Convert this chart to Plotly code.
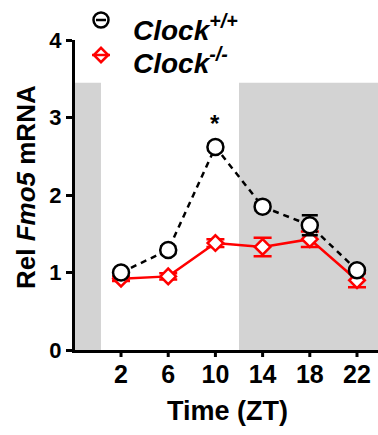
import plotly.graph_objects as go

time_zt = [2, 6, 10, 14, 18, 22]
wt_mean = [1.00, 1.29, 2.62, 1.85, 1.61, 1.03]
wt_err = [0.03, 0.05, 0.04, 0.05, 0.13, 0.04]
ko_mean = [0.92, 0.95, 1.38, 1.33, 1.43, 0.90]
ko_err = [0.03, 0.04, 0.05, 0.12, 0.10, 0.09]
x_ticks = [2, 6, 10, 14, 18, 22]
y_ticks = [0, 1, 2, 3, 4]
dark_periods = [(-1.9, 0.3), (12, 24)]
shade_top = 3.45
legend_labels = ["<b><i>Clock<sup>+/+</sup></i></b>", "<b><i>Clock<sup>-/-</sup></i></b>"]

W, H = 378, 435
L, R, T, B = 75, 0, 0, 85
PW, PH = W - L - R, H - T - B          # plot area: 303 x 350 px
MAIN_TOP = 40                          # pixel y of value 4
FONT = "Liberation Sans, Arial, sans-serif"
RED = "#ff0000"

def px(xp):
    return (xp - L) / PW

def py(yp):
    return (H - B - yp) / PH

fig = go.Figure()

fig.add_trace(go.Scatter(
    x=time_zt, y=ko_mean, mode="lines+markers",
    line=dict(color=RED, width=2.5),
    marker=dict(symbol="diamond", size=12, color="white", line=dict(color=RED, width=2.5)),
    error_y=dict(type="data", array=ko_err, color=RED, thickness=2.5, width=9),
    showlegend=False, cliponaxis=False,
))
fig.add_trace(go.Scatter(
    x=time_zt, y=wt_mean, mode="lines+markers",
    line=dict(color="black", width=2.5, dash="6px,5px"),
    marker=dict(symbol="circle", size=16, color="white", line=dict(color="black", width=2.5)),
    error_y=dict(type="data", array=wt_err, color="black", thickness=2.5, width=8),
    showlegend=False, cliponaxis=False,
))

# legend keys drawn on a pixel-coordinate axis pair
leg_px_x = 101
leg_px_y = [20, 55]
fig.add_trace(go.Scatter(
    x=[leg_px_x - 5, leg_px_x + 5], y=[leg_px_y[0]] * 2, mode="lines", xaxis="x2", yaxis="y2",
    line=dict(color="black", width=2.5), showlegend=False, hoverinfo="skip",
))
fig.add_trace(go.Scatter(
    x=[leg_px_x], y=[leg_px_y[0]], mode="markers", xaxis="x2", yaxis="y2",
    marker=dict(symbol="circle", size=15, color="rgba(0,0,0,0)", line=dict(color="black", width=2.5)),
    showlegend=False, cliponaxis=False,
))
fig.add_trace(go.Scatter(
    x=[leg_px_x - 9, leg_px_x + 9], y=[leg_px_y[1]] * 2, mode="lines", xaxis="x2", yaxis="y2",
    line=dict(color=RED, width=2.5), showlegend=False, hoverinfo="skip",
))
fig.add_trace(go.Scatter(
    x=[leg_px_x], y=[leg_px_y[1]], mode="markers", xaxis="x2", yaxis="y2",
    marker=dict(symbol="diamond", size=11, color="rgba(0,0,0,0)", line=dict(color=RED, width=2.5)),
    showlegend=False, cliponaxis=False,
))

shapes = []
for x0, x1 in dark_periods:
    shapes.append(dict(type="rect", xref="x", yref="y", x0=x0, x1=x1, y0=0, y1=shade_top,
                       fillcolor="#d3d3d3", line=dict(width=0), layer="below"))
# x-axis tick marks (drawn as pixel-length shapes so the labels can sit closer)
for v in x_ticks:
    shapes.append(dict(type="line", xref="x", yref="paper", ysizemode="pixel", yanchor=0,
                       x0=v, x1=v, y0=0, y1=-7, line=dict(color="black", width=3)))

annotations = [
    dict(x=px(131), y=py(28), xref="paper", yref="paper", text=legend_labels[0],
         showarrow=False, xanchor="left", yanchor="middle",
         font=dict(family=FONT, size=28, color="black")),
    dict(x=px(131), y=py(61), xref="paper", yref="paper", text=legend_labels[1],
         showarrow=False, xanchor="left", yanchor="middle",
         font=dict(family=FONT, size=28, color="black")),
    dict(x=10, y=2.92, xref="x", yref="y", text="<b>*</b>", showarrow=False,
         font=dict(family=FONT, size=24, color="black")),
    dict(x=px(26), y=py(187), xref="paper", yref="paper",
         text="<b>Rel <i>Fmo5</i> mRNA</b>", textangle=-90, showarrow=False,
         xanchor="center", yanchor="middle",
         font=dict(family=FONT, size=26, color="black")),
    dict(x=px(227), y=py(411), xref="paper", yref="paper",
         text="<b>Time (ZT)</b>", showarrow=False, xanchor="center", yanchor="middle",
         font=dict(family=FONT, size=27, color="black")),
]

fig.update_layout(
    width=W, height=H, margin=dict(l=L, r=R, t=T, b=B, pad=0, autoexpand=False),
    paper_bgcolor="white", plot_bgcolor="rgba(0,0,0,0)",
    shapes=shapes, annotations=annotations,
    xaxis=dict(range=[-1.9, 2 + (W - 121) / 11.8], tickvals=x_ticks,
               ticktext=[f"<b>{v}</b>" for v in x_ticks],
               showgrid=False, zeroline=False, showline=True, linecolor="black", linewidth=3,
               ticks="",
               tickfont=dict(family=FONT, size=25, color="black"), automargin=False),
    yaxis=dict(range=[0, 4], domain=[0, (PH - MAIN_TOP) / PH], tickvals=y_ticks,
               ticktext=[f"<b>{v}</b>" for v in y_ticks],
               showgrid=False, zeroline=False, showline=True, linecolor="black", linewidth=3,
               ticks="outside", ticklen=6, tickwidth=3, tickcolor="black",
               tickfont=dict(family=FONT, size=22, color="black"), automargin=False),
    xaxis2=dict(range=[L, W], domain=[0, 1], visible=False, anchor="y2"),
    yaxis2=dict(range=[PH, 0], domain=[0, 1], visible=False, anchor="x2"),
)

fig.write_html("out.html", config={"displayModeBar": False},
               post_script="document.body.style.margin='0';document.body.style.overflow='hidden';")
